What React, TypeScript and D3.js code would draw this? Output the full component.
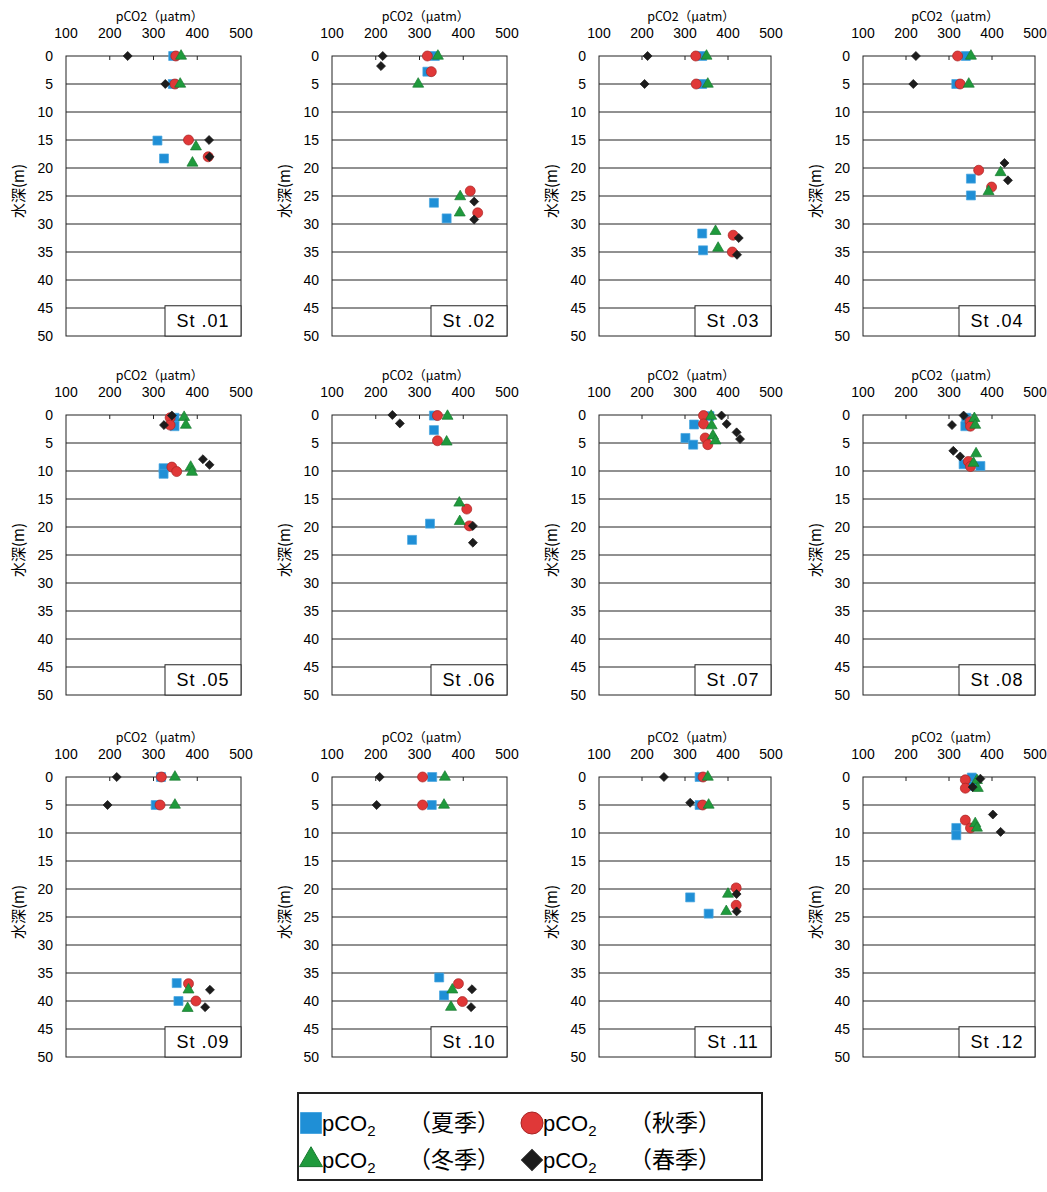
import React, { useEffect, useRef } from "react";
import * as d3 from "d3";

const stations = ["St .01", "St .02", "St .03", "St .04", "St .05", "St .06", "St .07", "St .08", "St .09", "St .10", "St .11", "St .12"];
const xTicks = [100, 200, 300, 400, 500];
const depthTicks = [0, 5, 10, 15, 20, 25, 30, 35, 40, 45, 50];

// [pCO2 (uatm), depth (m)] for each station
const summer = [
  [[345, 0], [344, 5], [309, 15.1], [324, 18.3]],
  [[335, 0], [318, 2.8], [333, 26.2], [362, 29]],
  [[340, 0], [340, 5], [340, 31.7], [342, 34.7]],
  [[339, 0], [317, 5], [351, 21.9], [351, 24.9]],
  [[348, 0.5], [348, 2], [323, 9.5], [323, 10.5]],
  [[333, 0.1], [333, 2.7], [324, 19.4], [283, 22.3]],
  [[357, 0.2], [321, 1.7], [301, 4.1], [319, 5.3]],
  [[340, 0.5], [338, 2], [334, 8.8], [373, 9.1]],
  [[317, 0], [305, 5], [353, 36.8], [357, 40]],
  [[329, 0], [328, 5], [345, 35.8], [356, 39]],
  [[334, 0], [334, 5], [312, 21.5], [355, 24.4]],
  [[353, 0.1], [355, 1.6], [317, 9.1], [317, 10.4]],
];
const autumn = [
  [[351, 0], [349, 5], [380, 15], [425, 18]],
  [[318, 0], [327, 2.8], [416, 24.1], [433, 28]],
  [[325, 0], [326, 5], [412, 32], [410, 35]],
  [[320, 0], [326, 5], [369, 20.4], [399, 23.4]],
  [[338, 0.5], [338, 1.8], [342, 9.3], [353, 10.1]],
  [[341, 0.1], [341, 4.6], [408, 16.8], [414, 19.8]],
  [[343, 0.1], [343, 1.6], [347, 4.1], [353, 5.3]],
  [[349, 1.2], [350, 2], [345, 8.3], [350, 9.2]],
  [[318, 0], [315, 5], [380, 36.9], [397, 40]],
  [[307, 0], [307, 5], [389, 36.9], [398, 40.1]],
  [[342, 0], [341, 5], [419, 19.8], [419, 22.9]],
  [[338, 0.5], [338, 2], [338, 7.7], [350, 9.1]],
];
const winter = [
  [[363, 0], [361, 5], [397, 16.2], [389, 19.1]],
  [[342, 0], [297, 5], [393, 25.1], [392, 28]],
  [[350, 0], [353, 5], [371, 31.3], [377, 34.3]],
  [[351, 0], [346, 5], [420, 20.8], [392, 24.2]],
  [[370, 0.4], [374, 1.8], [385, 9.3], [388, 10.2]],
  [[364, 0.2], [362, 4.8], [391, 15.7], [392, 19]],
  [[361, 0.2], [362, 1.9], [365, 3.7], [371, 4.6]],
  [[359, 0.6], [361, 1.8], [363, 6.9], [357, 8.6]],
  [[349, 0], [349, 5], [380, 38], [378, 41.3]],
  [[358, 0], [356, 5], [375, 38], [372, 41.1]],
  [[353, 0], [355, 5], [400, 20.9], [396, 24]],
  [[365, 0.6], [367, 2], [361, 8.3], [365, 9.1]],
];
const spring = [
  [[241, 0], [327, 5], [427, 15], [428, 18]],
  [[216, 0], [212, 1.8], [425, 26], [425, 29.2]],
  [[213, 0], [206, 5], [425, 32.5], [421, 35.5]],
  [[223, 0], [217, 5], [429, 19.1], [437, 22.2]],
  [[342, 0.1], [324, 1.8], [413, 7.9], [428, 8.9]],
  [[238, 0], [255, 1.5], [422, 19.8], [422, 22.8]],
  [[385, 0.1], [397, 1.6], [420, 3.1], [428, 4.3]],
  [[334, 0.1], [307, 1.8], [310, 6.4], [326, 7.4]],
  [[216, 0], [195, 5], [429, 38], [418, 41.1]],
  [[209, 0], [202, 5], [420, 37.9], [418, 41.1]],
  [[251, 0], [312, 4.6], [420, 20.9], [420, 24]],
  [[373, 0.3], [355, 1.8], [402, 6.7], [420, 9.8]],
];
const seasonLabels = ["（夏季）", "（秋季）", "（冬季）", "（春季）"];

const FONT = "'Liberation Sans', Arial, 'Noto Sans CJK JP', sans-serif";
const JP = "'Noto Sans CJK JP', 'Liberation Sans', sans-serif";

const series = [
  { data: summer, shape: "square", fill: "#1f8fd6", stroke: "#4aa6e0", size: 9, legendSize: 21 },
  { data: autumn, shape: "circle", fill: "#e03838", stroke: "#a82424", size: 10, legendSize: 22 },
  { data: winter, shape: "triangle", fill: "#1f9a3c", stroke: "#187a30", size: 11, legendSize: 23 },
  { data: spring, shape: "diamond", fill: "#1c1c1c", stroke: "#1c1c1c", size: 9, legendSize: 21 },
];

const symbolPath = (shape: string, s: number) => {
  if (shape === "square") return d3.symbol(d3.symbolSquare, s * s)();
  if (shape === "circle") return d3.symbol(d3.symbolCircle, Math.PI * (s / 2) * (s / 2))();
  if (shape === "triangle") return d3.symbol(d3.symbolTriangle, (Math.sqrt(3) / 4) * s * s)();
  return d3.symbol(d3.symbolSquare, (s * s) / 2)();
};

const App = () => {
  const ref = useRef<SVGSVGElement>(null);

  useEffect(() => {
    const svg = d3.select(ref.current);
    svg.selectAll("*").remove();

    const colX = [66, 332, 599, 863];
    const colW = [175, 175, 172, 172];
    const rowY = [56, 415, 777];
    const h = 280;

    stations.forEach((name, i) => {
      const x0 = colX[i % 4], w = colW[i % 4], y0 = rowY[Math.floor(i / 4)];
      const x = d3.scaleLinear().domain([100, 500]).range([x0, x0 + w]);
      const y = d3.scaleLinear().domain([0, 50]).range([y0, y0 + h]);
      const g = svg.append("g");

      g.append("text").attr("x", x(300) + 6).attr("y", y0 - 35).attr("text-anchor", "middle")
        .style("font-family", JP).style("font-size", "12.5px").text("pCO2（μatm）");

      g.selectAll(".xt").data(xTicks).enter().append("text")
        .attr("x", (d) => x(d)).attr("y", y0 - 18).attr("text-anchor", "middle")
        .style("font-family", FONT).style("font-size", "14px").text((d) => d);

      g.selectAll(".yt").data(depthTicks).enter().append("text")
        .attr("x", x0 - 13).attr("y", (d) => y(d) + 5).attr("text-anchor", "end")
        .style("font-family", FONT).style("font-size", "14px").text((d) => d);

      g.append("text").attr("transform", `translate(${x0 - 42},${y0 + 135}) rotate(-90)`)
        .attr("text-anchor", "middle").style("font-family", JP).style("font-size", "15px").text("水深(m)");

      g.selectAll(".grid").data(depthTicks.slice(1, -1)).enter().append("line")
        .attr("x1", x0).attr("x2", x0 + w).attr("y1", (d) => y(d)).attr("y2", (d) => y(d))
        .attr("stroke", "#222").attr("stroke-width", 1);

      g.append("rect").attr("x", x0).attr("y", y0).attr("width", w).attr("height", h)
        .attr("fill", "none").attr("stroke", "#222").attr("stroke-width", 1);

      g.selectAll(".tk").data(xTicks.slice(1, -1)).enter().append("line")
        .attr("x1", (d) => x(d)).attr("x2", (d) => x(d)).attr("y1", y0).attr("y2", y0 + 4)
        .attr("stroke", "#222");

      g.append("rect").attr("x", x0 + w - 76).attr("y", y(44.6)).attr("width", 76).attr("height", y(50) - y(44.6))
        .attr("fill", "#fff").attr("stroke", "#222").attr("stroke-width", 1);
      g.append("text").attr("x", x0 + w - 38).attr("y", y(50) - 9).attr("text-anchor", "middle")
        .style("font-family", FONT).style("font-size", "18px").style("letter-spacing", "1px").text(name);

      series.forEach((s) => {
        g.selectAll(null).data(s.data[i]).enter().append("path")
          .attr("d", symbolPath(s.shape, s.size))
          .attr("transform", (d) => `translate(${x(d[0])},${y(d[1])})${s.shape === "diamond" ? " rotate(45)" : ""}`)
          .attr("fill", s.fill).attr("stroke", s.stroke).attr("stroke-width", 0.7);
      });
    });

    // legend
    const lg = svg.append("g");
    lg.append("rect").attr("x", 298).attr("y", 1093).attr("width", 464).attr("height", 87)
      .attr("fill", "#fff").attr("stroke", "#222").attr("stroke-width", 2);
    const cols = [0, 1, 0, 1];
    const rows = [0, 0, 1, 1];
    series.forEach((s, k) => {
      const mx = cols[k] === 0 ? 311 : 532;
      const my = rows[k] === 0 ? 1123 : 1160;
      lg.append("path").attr("d", symbolPath(s.shape, s.legendSize))
        .attr("transform", `translate(${mx},${my})${s.shape === "diamond" ? " rotate(45)" : ""}`)
        .attr("fill", s.fill).attr("stroke", s.stroke).attr("stroke-width", 1);
      const t = lg.append("text").attr("x", mx + 11).attr("y", my + 8)
        .style("font-family", FONT).style("font-size", "22px");
      t.append("tspan").text("pCO");
      t.append("tspan").attr("dy", 5).style("font-size", "15px").text("2");
      lg.append("text").attr("x", mx + 97).attr("y", my + 8)
        .style("font-family", JP).style("font-size", "23px").text(seasonLabels[k]);
    });
  }, []);

  return <svg ref={ref} width={1047} height={1192} style={{ position: "absolute", left: 0, top: 0, background: "#fff" }} />;
};

export default App;
